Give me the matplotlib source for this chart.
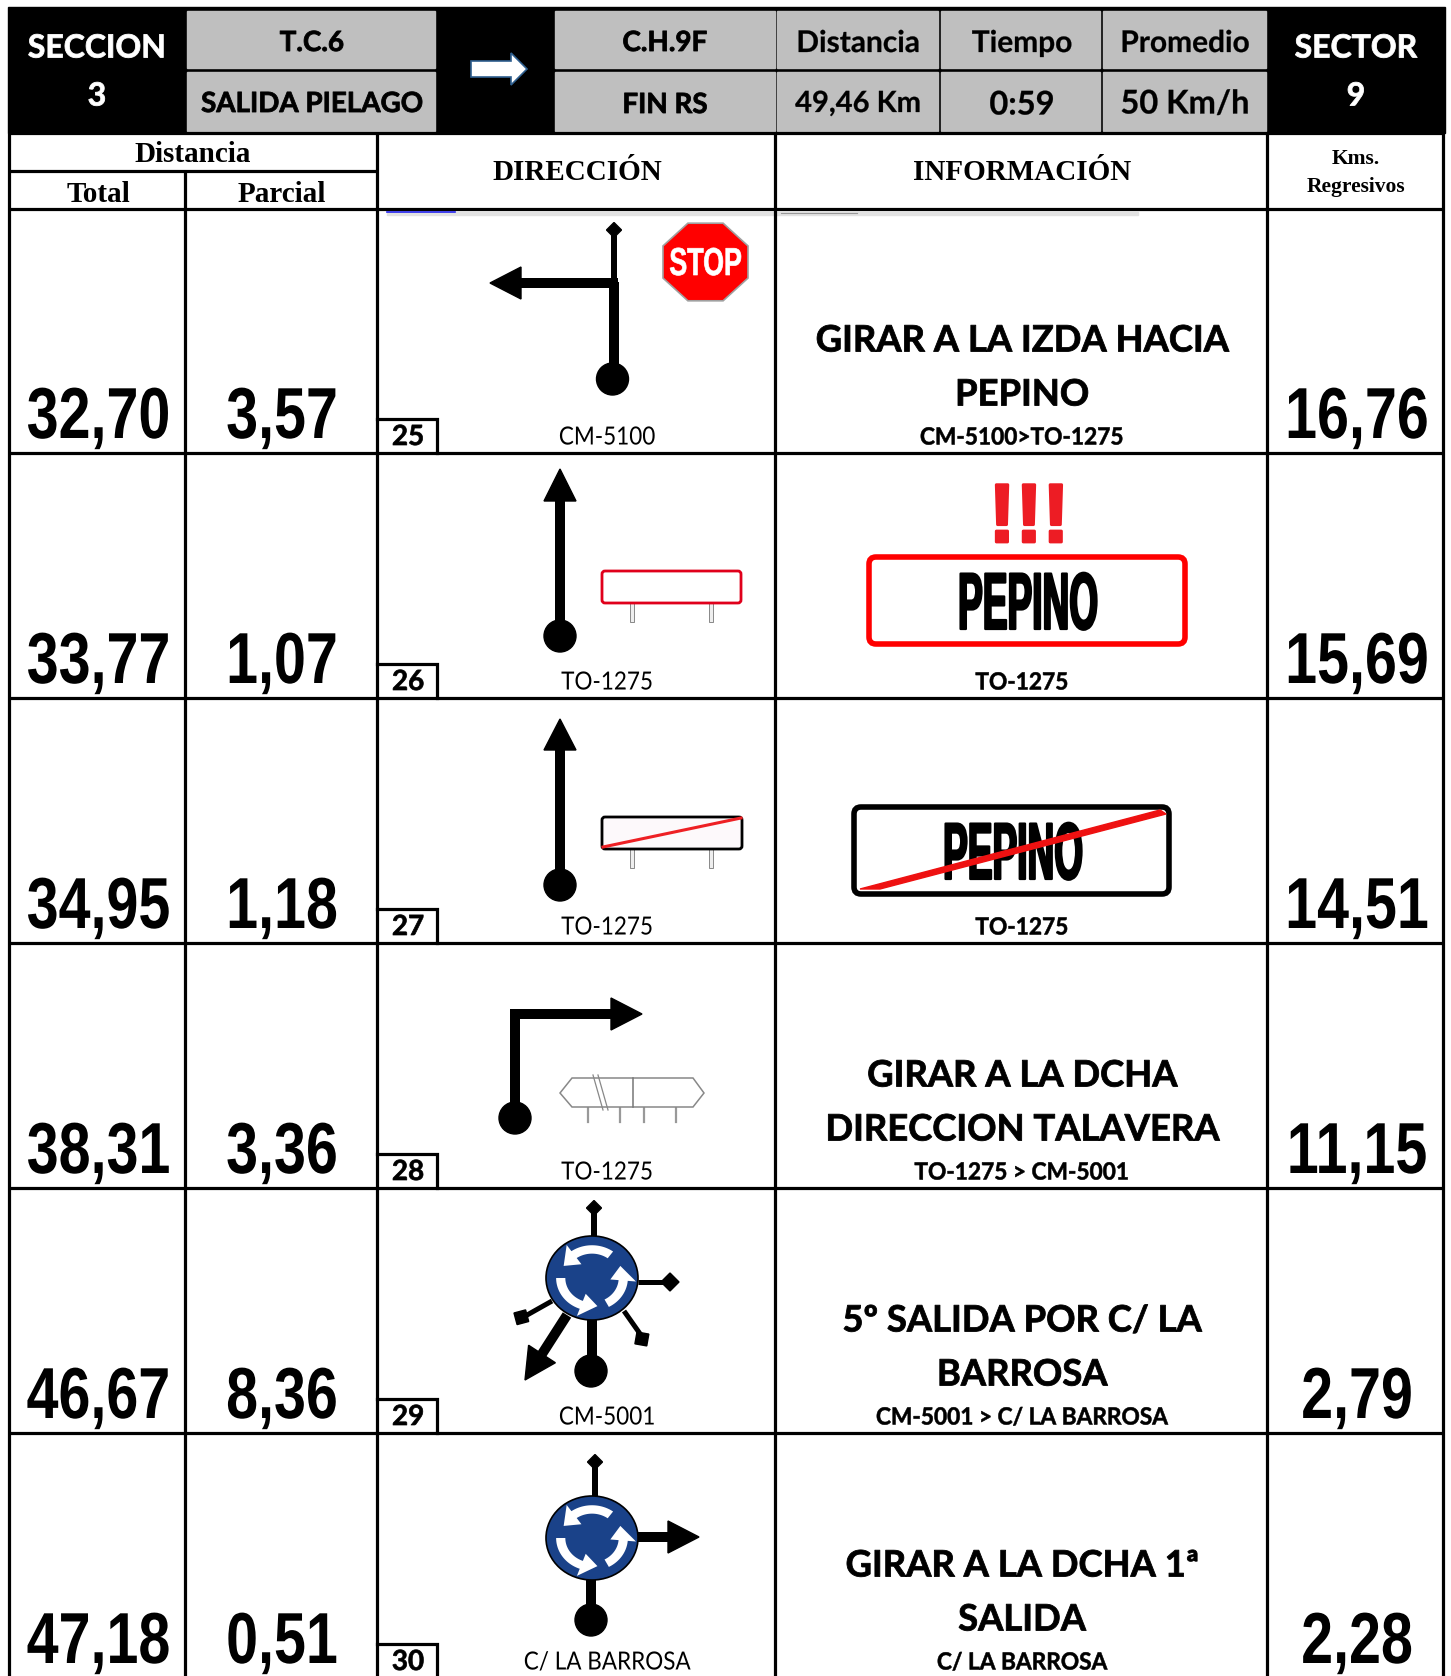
"""Roadbook page: section 3, notes 25 to 30, drawn in pixel coordinates."""

import matplotlib

matplotlib.use("Agg")
import matplotlib.pyplot as plt
import numpy as np
from matplotlib.patches import Ellipse, FancyBboxPatch, Polygon, Rectangle
from matplotlib.patheffects import AbstractPathEffect
from matplotlib.transforms import Affine2D

W, H = 1451, 1676

# table content
total_km = ["32,70", "33,77", "34,95", "38,31", "46,67", "47,18"]
partial_km = ["3,57", "1,07", "1,18", "3,36", "8,36", "0,51"]
regressive_km = ["16,76", "15,69", "14,51", "11,15", "2,79", "2,28"]
note_numbers = ["25", "26", "27", "28", "29", "30"]
road_labels = ["CM-5100", "TO-1275", "TO-1275", "TO-1275", "CM-5001", "C/ LA BARROSA"]
info_lines = [
    ["GIRAR A LA IZDA HACIA", "PEPINO"],
    [],
    [],
    ["GIRAR A LA DCHA", "DIRECCION TALAVERA"],
    ["5º SALIDA POR C/ LA", "BARROSA"],
    ["GIRAR A LA DCHA 1ª", "SALIDA"],
]
info_subs = ["CM-5100>TO-1275", "TO-1275", "TO-1275", "TO-1275 > CM-5001",
             "CM-5001 > C/ LA BARROSA", "C/ LA BARROSA"]

# layout
ROW_BOTTOMS = [453, 698, 943, 1188, 1433, 1678]
X_LEFT, X_TOTAL, X_DIR, X_INFO, X_REG, X_RIGHT = 9, 185, 377, 775, 1267, 1443
LINE = 2.3
GREY = "#bfbfbf"
BLUE = "#1a4289"
SANS = ["Lato", "DejaVu Sans"]
SERIF = ["Liberation Serif", "DejaVu Serif"]
ARIAL = ["Liberation Sans", "DejaVu Sans"]

fig = plt.figure(figsize=(W / 100, H / 100), dpi=100)
ax = fig.add_axes([0, 0, 1, 1])
ax.set_xlim(0, W)
ax.set_ylim(H, 0)
ax.axis("off")


class Squeeze(AbstractPathEffect):
    """Narrow a text horizontally around x0 and optionally fatten it."""

    def __init__(self, sx, x0, stroke=0.0):
        super().__init__()
        self.sx, self.x0, self.stroke = sx, x0, stroke

    def draw_path(self, renderer, gc, tpath, affine, rgbFace):
        aff = affine + Affine2D().translate(-self.x0, 0).scale(self.sx, 1).translate(self.x0, 0)
        gc0 = renderer.new_gc()
        gc0.copy_properties(gc)
        gc0.set_foreground(rgbFace)
        gc0.set_linewidth(self.stroke)
        renderer.draw_path(gc0, tpath, aff, rgbFace)
        gc0.restore()


def text(x, y, s, size, family=SANS, weight="bold", color="black", va="center", zorder=5, sx=1.0, fat=0.0):
    t = ax.text(x, y, s, fontsize=size, family=family, fontweight=weight, color=color,
                ha="center", va=va, zorder=zorder)
    if sx != 1.0 or fat:
        t.set_path_effects([Squeeze(sx, x, stroke=fat)])
    return t


def hline(y, x0=X_LEFT, x1=X_RIGHT):
    ax.plot([x0, x1], [y, y], color="black", lw=LINE, solid_capstyle="butt", zorder=3)


def vline(x, y0, y1=H):
    ax.plot([x, x], [y0, y1], color="black", lw=LINE, solid_capstyle="butt", zorder=3)


def stroke(xs, ys, width=10):
    ax.plot(xs, ys, color="black", lw=width * 0.72, solid_capstyle="butt", solid_joinstyle="miter", zorder=4)


def dot(x, y, r=16):
    ax.add_patch(Ellipse((x, y), 2 * r, 2 * r, color="black", zorder=4))


def diamond(x, y, r=7.5):
    ax.add_patch(Polygon([(x, y - r), (x + r, y), (x, y + r), (x - r, y)], color="black", zorder=4))


def head(tip, base, half=16):
    tip, base = np.array(tip, float), np.array(base, float)
    d = (tip - base) / np.linalg.norm(tip - base)
    n = np.array([-d[1], d[0]]) * half
    ax.add_patch(Polygon([tip, base + n, base - n], color="black", zorder=4))


def straight_arrow(b):
    stroke([560, 560], [b - 197, b - 62])
    head((560, b - 229 if b == 698 else b - 224), (560, b - 197 if b == 698 else b - 193))
    dot(560, b - 62 if b == 698 else b - 58)


def small_sign(b, edge, crossed):
    y0, y1 = (b - 127, b - 95) if not crossed else (b - 126, b - 94)
    xr = 741 if not crossed else 742
    for x in (632, 711):
        ax.add_patch(Rectangle((x - 2, y1), 4, 19, fc="#eeeeee", ec="#888888", lw=0.7, zorder=3))
    ax.add_patch(FancyBboxPatch((602, y0), xr - 602, y1 - y0, boxstyle="round,pad=0,rounding_size=3",
                                fc="#fdf9fb" if crossed else "white", ec=edge, lw=2.0, zorder=4))
    if crossed:
        ax.plot([603, 741], [y1 - 2, y0 + 1], color="#ee2024", lw=2.2, zorder=5)


def big_sign(x0, y0, x1, y1, edge):
    ax.add_patch(FancyBboxPatch((x0, y0), x1 - x0, y1 - y0, boxstyle="round,pad=0,rounding_size=7",
                                fc="white", ec=edge, lw=4.0, zorder=4))


def pepino(x, y):
    text(x, y, "PEPINO", 58, family=ARIAL, zorder=6, sx=0.46, fat=1.6)


def roundabout(cx, cy, rx=46, ry=42):
    ax.add_patch(Ellipse((cx, cy), 2 * rx, 2 * ry, fc=BLUE, ec="black", lw=1.2, zorder=5))
    r, w = 0.68, 0.10
    for a0, a1 in [(54, 125), (-62, -5), (180, 250)]:
        th = np.radians(np.linspace(a0, a1, 30))
        a = np.radians(a1)
        tip = np.radians(a1 + 30)
        ux = np.r_[(r + w) * np.cos(th), (r + 2.8 * w) * np.cos(a), r * np.cos(tip),
                   (r - 2.8 * w) * np.cos(a), (r - w) * np.cos(th[::-1])]
        uy = np.r_[(r + w) * np.sin(th), (r + 2.8 * w) * np.sin(a), r * np.sin(tip),
                   (r - 2.8 * w) * np.sin(a), (r - w) * np.sin(th[::-1])]
        ax.add_patch(Polygon(np.c_[cx + rx * ux, cy - ry * uy], fc="white", ec="none", zorder=6))


# ---- header band
ax.add_patch(Rectangle((X_LEFT - 1, 7), X_RIGHT - X_LEFT + 2.5, 126, color="black", zorder=1))
grey_cols = [(187, 435), (555, 775), (777, 938), (941, 1100), (1103, 1266)]
for x0, x1 in grey_cols:
    for y0, y1 in [(11, 68), (72, 131)]:
        ax.add_patch(Rectangle((x0, y0), x1 - x0, y1 - y0, color=GREY, zorder=2))

HEAD_FAT = 0.6
text(97, 48, "SECCION", 23, color="white", fat=HEAD_FAT)
text(97, 96, "3", 23, color="white", fat=HEAD_FAT)
text(1356, 48, "SECTOR", 23, color="white", fat=HEAD_FAT)
text(1356, 96, "9", 23, color="white", fat=HEAD_FAT)
text(312, 43, "T.C.6", 20, fat=HEAD_FAT)
text(312, 104, "SALIDA PIELAGO", 20, fat=HEAD_FAT)
text(665, 43, "C.H.9F", 20, fat=HEAD_FAT)
text(665, 105, "FIN RS", 20, fat=HEAD_FAT)
text(858, 43, "Distancia", 21.5, fat=0.2)
text(1022, 43, "Tiempo", 21.5, fat=0.2)
text(1185, 43, "Promedio", 21.5, fat=0.2)
text(858, 104, "49,46 Km", 21, fat=0.2)
text(1022, 105, "0:59", 23.5, fat=0.2)
text(1185, 104, "50 Km/h", 23.5, fat=0.2)
ax.add_patch(Polygon([(471, 61), (511, 61), (511, 53), (527, 69), (511, 85), (511, 77), (471, 77)],
                     fc="white", ec="#2f5f8f", lw=1.2, zorder=4))

# ---- column heads
text(193, 154, "Distancia", 21, family=SERIF)
text(98, 194, "Total", 21, family=SERIF)
text(282, 194, "Parcial", 21, family=SERIF)
text(577, 173, "DIRECCIÓN", 21, family=SERIF)
text(1022, 173, "INFORMACIÓN", 21, family=SERIF)
text(1356, 159, "Kms.", 15.5, family=SERIF)
text(1356, 187, "Regresivos", 15.5, family=SERIF)

# ---- grid
hline(133)
hline(171, X_LEFT, X_DIR)
hline(209)
for b in ROW_BOTTOMS[:-1]:
    hline(b)
vline(X_LEFT, 133)
vline(X_RIGHT, 133)
vline(X_TOTAL, 171)
vline(X_DIR, 133)
vline(X_INFO, 133)
vline(X_REG, 133)

# scan leftovers under the head row
ax.add_patch(Rectangle((387, 212), 751, 3, color="#e2e2e2", zorder=2))
ax.plot([387, 455], [212, 212], color="#2222ee", lw=1.2, zorder=3)
ax.plot([781, 857], [213.5, 213.5], color="#999999", lw=0.8, zorder=3)

# ---- row texts
for i, b in enumerate(ROW_BOTTOMS):
    text(98.5, b - 15, total_km[i], 52, family=ARIAL, va="baseline", sx=0.795)
    text(282, b - 15, partial_km[i], 52, family=ARIAL, va="baseline", sx=0.795)
    text(1357, b - 15, regressive_km[i], 52, family=ARIAL, va="baseline", sx=0.795)
    ax.plot([X_DIR, 437, 437], [b - 34, b - 34, b], color="black", lw=LINE, solid_joinstyle="miter", zorder=3)
    text(408, b - 16, note_numbers[i], 20, fat=0.5)
    text(607, b - 16, road_labels[i], 18, weight="normal", sx=0.9)
    text(1022, b - 16, info_subs[i], 17, sx=0.96, fat=0.4)
    for y, line in zip((b - 112, b - 58), info_lines[i]):
        text(1022, y, line, 26.2, fat=0.6)

# ---- note 25: left turn and stop sign
b = ROW_BOTTOMS[0]
diamond(614, b - 223)
stroke([614, 614], [b - 218, b - 170], width=6)
stroke([613.5, 613.5], [b - 171, b - 74])
stroke([521, 618], [b - 170, b - 170])
head((490, b - 170), (521, b - 170))
dot(612.5, b - 74)
t_oct = np.radians(np.arange(22.5, 360, 45))
ax.add_patch(Polygon(np.c_[705.5 + 46 * np.cos(t_oct), 262 + 42 * np.sin(t_oct)],
                     fc="#ff0000", ec="#a0a0a0", lw=1.2, zorder=4))
text(705.5, 265, "STOP", 28, family=ARIAL, color="white", sx=0.69, fat=0.5)

# ---- note 26: straight on, town sign
b = ROW_BOTTOMS[1]
straight_arrow(b)
small_sign(b, "#e0001b", False)
text(1029, 520, "!!!", 60, family=ARIAL, color="#ed1c24", sx=0.97, fat=2.0)
big_sign(869, 557, 1185, 644, "#ff0000")
pepino(1028, 608)

# ---- note 27: straight on, end of town
b = ROW_BOTTOMS[2]
straight_arrow(b)
small_sign(b, "black", True)
big_sign(854, 807, 1169, 894, "black")
pepino(1013, 858)
ax.add_patch(Polygon([(860, 889), (880, 889), (1166, 814), (1160, 810)], color="#ee1111", zorder=7))

# ---- note 28: right turn, double sign
b = ROW_BOTTOMS[3]
stroke([515, 515, 611], [b - 70, b - 174, b - 174])
head((642, b - 174), (611, b - 174))
dot(515, b - 70)
ax.add_patch(Polygon([(560, b - 95), (572, b - 110), (693, b - 110), (704, b - 95), (693, b - 81), (572, b - 81)],
                     fc="white", ec="#888888", lw=1.1, zorder=4))
ax.plot([633, 633], [b - 110, b - 81], color="#777777", lw=1.1, zorder=5)
for dx in (0, 5):
    ax.plot([593 + dx, 603 + dx], [b - 113, b - 78], color="#888888", lw=0.9, zorder=5)
for x in (588, 620, 644, 676):
    ax.plot([x, x], [b - 81, b - 66], color="#999999", lw=1.6, zorder=3)

# ---- note 29: roundabout, fifth exit
b = ROW_BOTTOMS[4]
stroke([594, 594], [b - 225, b - 190], width=6)
diamond(594, b - 225)
stroke([638, 670], [b - 151, b - 151], width=5)
diamond(670, b - 151, r=9)
stroke([552, 520], [b - 132, b - 114], width=5)
ax.add_patch(Rectangle((514, b - 120), 12, 12, angle=-15, color="black", zorder=4))
stroke([624, 643], [b - 122, b - 95], width=5)
ax.add_patch(Rectangle((637, b - 101), 12, 12, angle=10, color="black", zorder=4))
stroke([592, 592], [b - 120, b - 62])
dot(591, b - 62)
stroke([567, 542], [b - 118, b - 79])
head((525, b - 53), (542, b - 79))
roundabout(592, b - 155)

# ---- note 30: roundabout, first exit
b = ROW_BOTTOMS[5]
stroke([595, 595], [b - 216, b - 180], width=6)
diamond(595, b - 216)
stroke([638, 668], [b - 141, b - 141])
head((699, b - 141), (668, b - 141))
stroke([591, 591], [b - 100, b - 58])
dot(591, b - 58)
roundabout(592, b - 140)

fig.savefig("out.png", dpi=100)
